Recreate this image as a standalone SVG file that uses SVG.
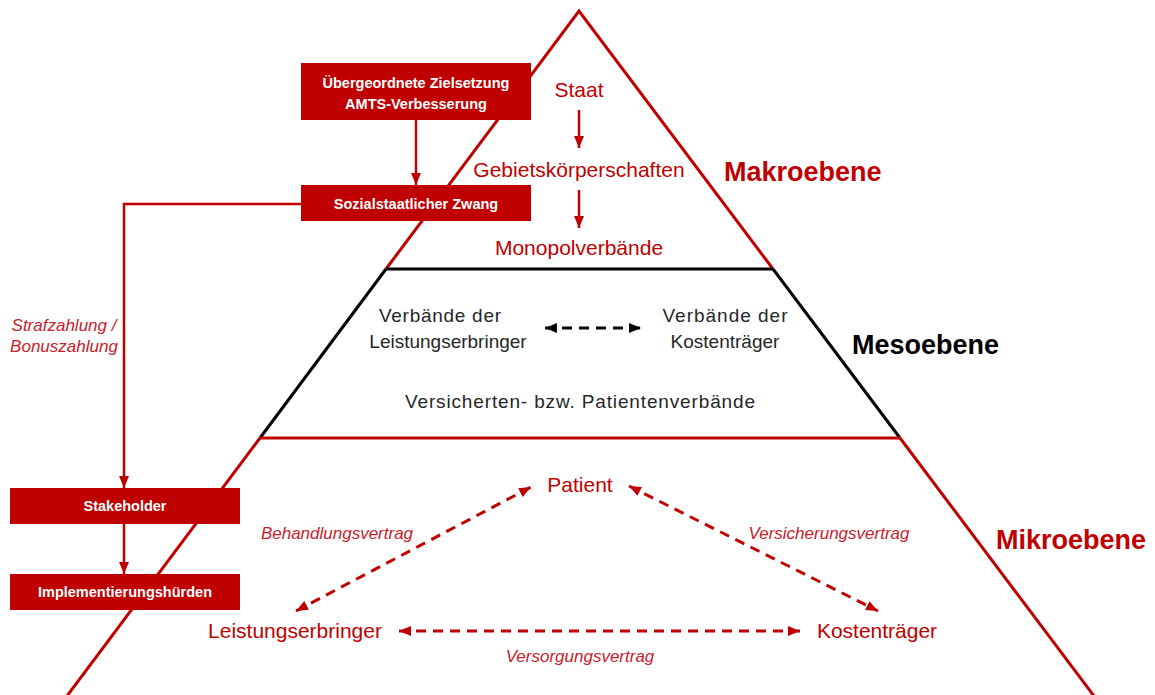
<svg xmlns="http://www.w3.org/2000/svg" width="1155" height="695" viewBox="0 0 1155 695">
  <style>
    .lvl { font-family: "Liberation Sans", Arial, sans-serif; font-size: 21px; fill: #C00000; text-anchor: middle; }
    .meso { font-family: "Liberation Sans", Arial, sans-serif; font-size: 19px; fill: #262626; text-anchor: middle; }
    .title { font-family: "Liberation Sans", Arial, sans-serif; font-size: 27px; font-weight: bold; }
    .box { fill: #C00000; }
    .boxtxt { font-family: "Liberation Sans", Arial, sans-serif; font-size: 14.5px; font-weight: bold; fill: #ffffff; text-anchor: middle; }
    .lbl { font-family: "Liberation Sans", Arial, sans-serif; font-size: 17px; font-style: italic; fill: #C8202A; text-anchor: middle; }
    .edge { fill: none; stroke: #C00000; stroke-width: 2.5; }
    .dash { fill: none; stroke: #C00000; stroke-width: 3; stroke-dasharray: 10 7; }
    .dashk { fill: none; stroke: #000000; stroke-width: 3; stroke-dasharray: 10 7; }
  </style>
  <defs>
    <marker id="ah" viewBox="0 0 12 10" refX="12" refY="5" markerWidth="12" markerHeight="10" markerUnits="userSpaceOnUse" orient="auto-start-reverse">
      <path d="M0,0 L12,5 L0,10 z" fill="#C00000"/>
    </marker>
    <marker id="ahk" viewBox="0 0 12 10" refX="12" refY="5" markerWidth="12" markerHeight="10" markerUnits="userSpaceOnUse" orient="auto-start-reverse">
      <path d="M0,0 L12,5 L0,10 z" fill="#000000"/>
    </marker>
  </defs>

  <!-- pyramid outline -->
  <g id="pyramid" fill="none" stroke-width="3">
    <path d="M386,269 L579,11 L773,269" stroke="#C00000" stroke-linejoin="miter"/>
    <path d="M386,269 L773,269" stroke="#000000"/>
    <path d="M386,269 L260,438 M773,269 L900,438" stroke="#000000"/>
    <path d="M260,438 L900,438" stroke="#C00000"/>
    <path d="M260,438 L64,700 M900,438 L1097,700" stroke="#C00000"/>
  </g>

  <!-- level titles -->
  <g id="levels">
    <text class="title" x="724" y="181" fill="#C00000">Makroebene</text>
    <text class="title" x="852" y="354" fill="#000000">Mesoebene</text>
    <text class="title" x="996" y="549" fill="#C00000">Mikroebene</text>
  </g>

  <!-- macro level actors -->
  <g id="staat"><text class="lvl" x="579" y="97">Staat</text></g>
  <g id="gebietskoerperschaften"><text class="lvl" x="579" y="177">Gebietskörperschaften</text></g>
  <g id="monopolverbaende"><text class="lvl" x="579" y="255">Monopolverbände</text></g>

  <!-- meso level actors -->
  <g id="verbaende-le">
    <text class="meso" x="440" y="322" textLength="122" lengthAdjust="spacing">Verbände der</text>
    <text class="meso" x="448" y="348">Leistungserbringer</text>
  </g>
  <g id="verbaende-kt">
    <text class="meso" x="725" y="322" textLength="125" lengthAdjust="spacing">Verbände der</text>
    <text class="meso" x="725" y="348">Kostenträger</text>
  </g>
  <g id="patientenverbaende">
    <text class="meso" x="580" y="408" textLength="350" lengthAdjust="spacing">Versicherten- bzw. Patientenverbände</text>
  </g>

  <!-- micro level actors -->
  <g id="patient"><text class="lvl" x="580" y="492">Patient</text></g>
  <g id="leistungserbringer"><text class="lvl" x="295" y="638">Leistungserbringer</text></g>
  <g id="kostentraeger"><text class="lvl" x="877" y="638">Kostenträger</text></g>

  <!-- boxes on the left -->
  <g id="zielsetzung">
    <rect class="box" x="301" y="63" width="230" height="57"/>
    <text class="boxtxt" x="416" y="88">Übergeordnete Zielsetzung</text>
    <text class="boxtxt" x="416" y="109">AMTS-Verbesserung</text>
  </g>
  <g id="zwang">
    <rect class="box" x="301" y="185" width="230" height="36"/>
    <text class="boxtxt" x="416" y="209">Sozialstaatlicher Zwang</text>
  </g>
  <g id="stakeholder">
    <rect class="box" x="10" y="488" width="230" height="36"/>
    <text class="boxtxt" x="125" y="511">Stakeholder</text>
  </g>
  <g id="huerden">
    <rect class="box" x="10" y="574" width="230" height="36"/>
    <text class="boxtxt" x="125" y="597">Implementierungshürden</text>
  </g>

  <!-- connectors -->
  <g id="connectors">
    <path class="edge" d="M579,110 L579,148" marker-end="url(#ah)"/>
    <path class="edge" d="M579,190 L579,228" marker-end="url(#ah)"/>
    <path class="edge" d="M416,120 L416,185" marker-end="url(#ah)"/>
    <path class="edge" d="M301,204 L124,204 L124,488" marker-end="url(#ah)"/>
    <path class="edge" d="M124,524 L124,574" marker-end="url(#ah)"/>
    <path class="dashk" d="M545,328 L641,328" marker-start="url(#ahk)" marker-end="url(#ahk)"/>
    <path class="dash" d="M296,611 L531,487" marker-start="url(#ah)" marker-end="url(#ah)"/>
    <path class="dash" d="M629,486 L878,611" marker-start="url(#ah)" marker-end="url(#ah)"/>
    <path class="dash" d="M399,631 L800,631" marker-start="url(#ah)" marker-end="url(#ah)"/>
  </g>

  <!-- connector labels -->
  <g id="labels">
    <text class="lbl" x="64" y="331" font-size="15.5">Strafzahlung /</text>
    <text class="lbl" x="64" y="352" font-size="15.5">Bonuszahlung</text>
    <text class="lbl" x="337" y="539">Behandlungsvertrag</text>
    <text class="lbl" x="829" y="539">Versicherungsvertrag</text>
    <text class="lbl" x="580" y="662">Versorgungsvertrag</text>
  </g>
</svg>
